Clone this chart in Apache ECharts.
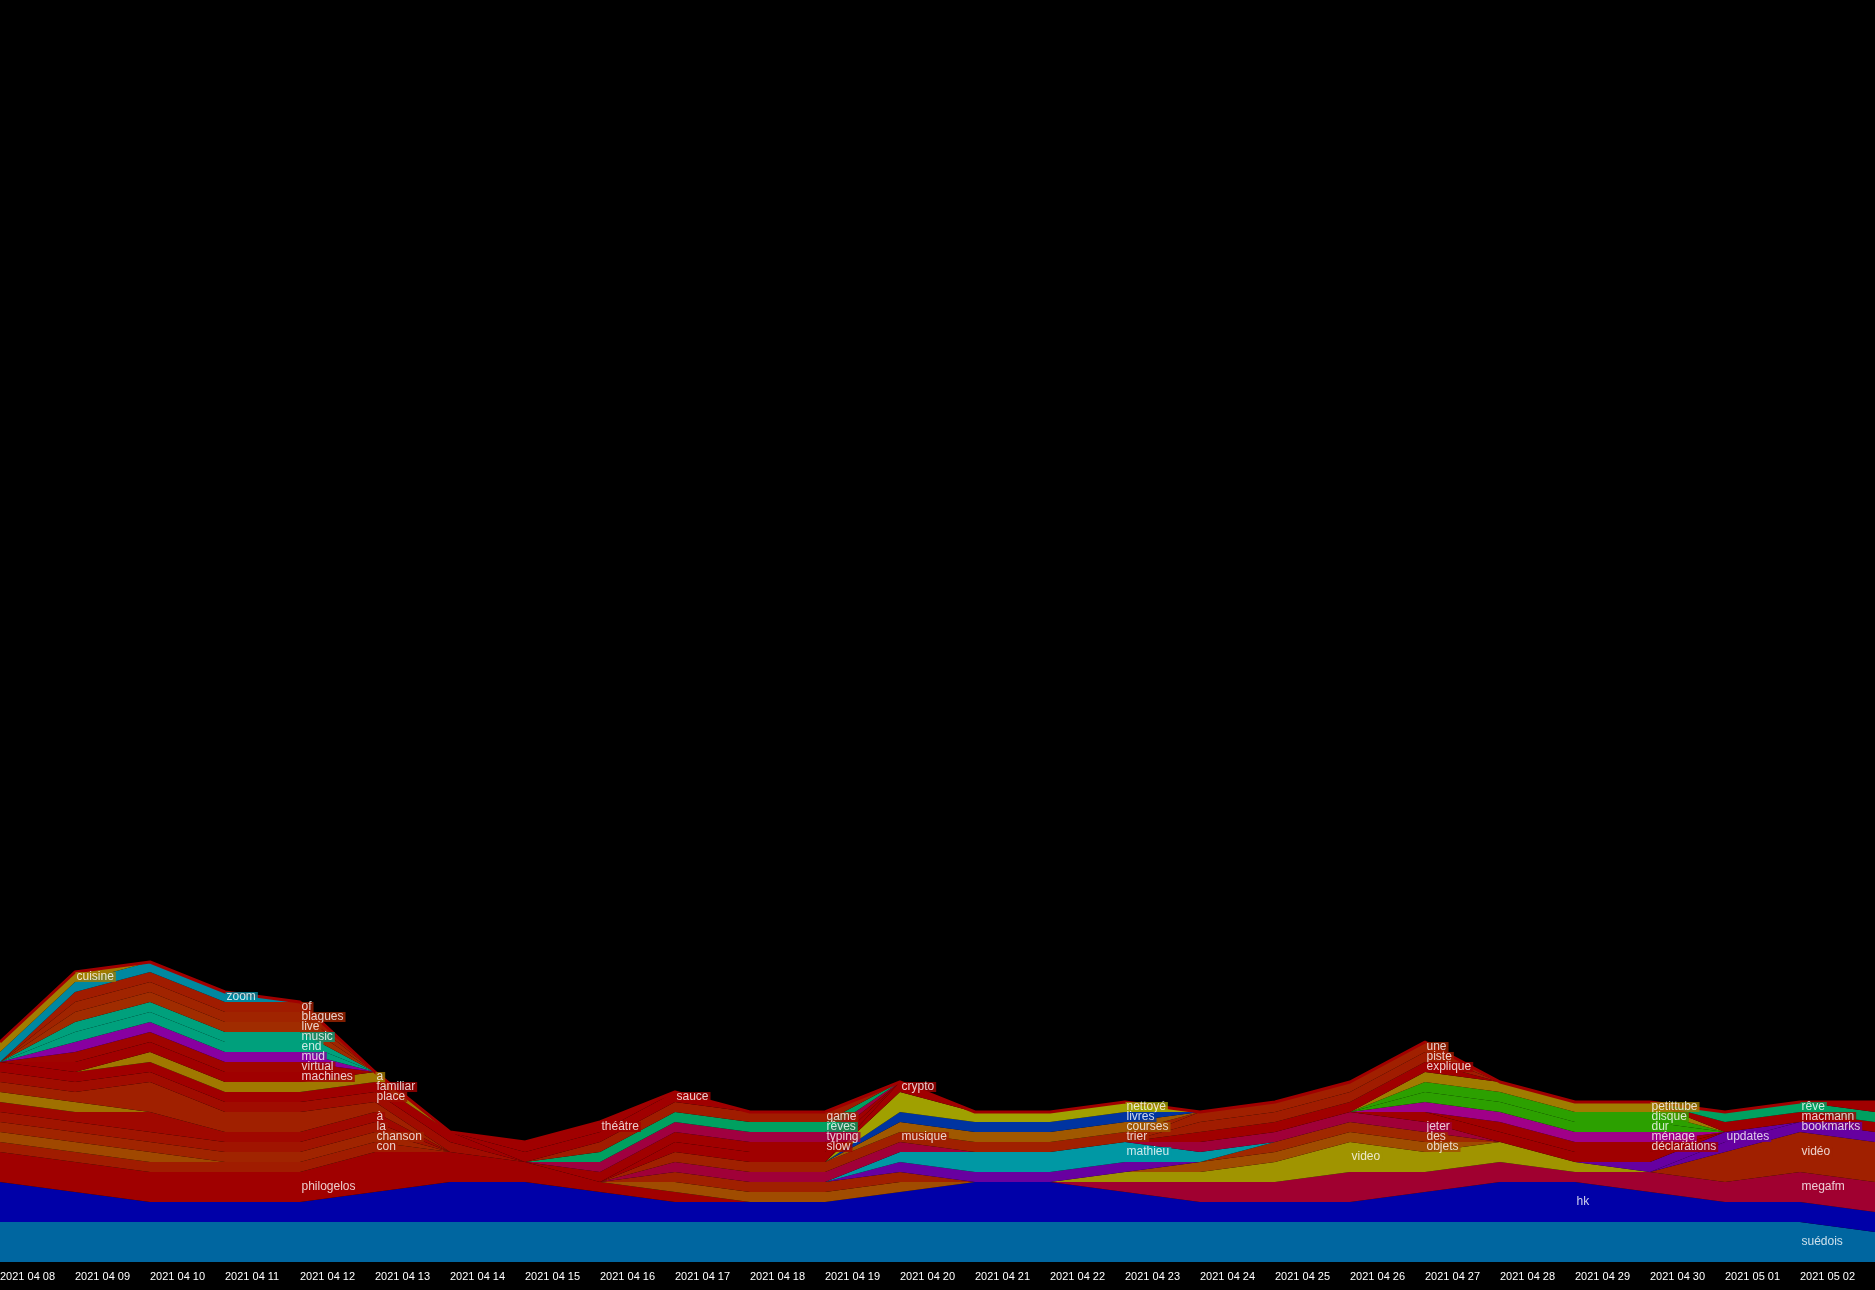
<!DOCTYPE html>
<html><head><meta charset="utf-8">
<script src="https://cdn.jsdelivr.net/npm/echarts@6/dist/echarts.min.js"></script>
<style>html,body{margin:0;padding:0;background:#000;overflow:hidden}#c{width:1875px;height:1290px}</style>
</head><body><div id="c"></div>
<script>
const days = ['2021 04 08','2021 04 09','2021 04 10','2021 04 11','2021 04 12','2021 04 13','2021 04 14','2021 04 15','2021 04 16','2021 04 17','2021 04 18','2021 04 19','2021 04 20','2021 04 21','2021 04 22','2021 04 23','2021 04 24','2021 04 25','2021 04 26','2021 04 27','2021 04 28','2021 04 29','2021 04 30','2021 05 01','2021 05 02','2021 05 03'];

// word counts per day, bottom of the stack first
const suedois      = [4,4,4,4,4,4,4,4,4,4,4,4,4,4,4,4,4,4,4,4,4,4,4,4,4,3];
const hk           = [4,3,2,2,2,3,4,4,3,2,2,2,3,4,4,3,2,2,2,3,4,4,3,2,2,2];
const philogelos   = [3,3,3,3,3,4,3,2,1,1,0,0,0,0,0,0,0,0,0,0,0,0,0,0,0,0];
const con          = [1,1,1,1,1,1,0,0,0,0,0,0,0,0,0,0,0,0,0,0,0,0,0,0,0,0];
const wOL          = [1,1,1,0,0,0,0,0,0,0,0,0,0,0,0,0,0,0,0,0,0,0,0,0,0,0];
const chanson      = [1,1,1,1,1,1,0,0,0,0,0,0,0,0,0,0,0,0,0,0,0,0,0,0,0,0];
const la           = [1,1,1,1,1,1,0,0,0,0,0,0,0,0,0,0,0,0,0,0,0,0,0,0,0,0];
const aGrave       = [1,1,2,1,1,1,0,0,0,0,0,0,0,0,0,0,0,0,0,0,0,0,0,0,0,0];
const wGL          = [1,1,0,0,0,0,0,0,0,0,0,0,0,0,0,0,0,0,0,0,0,0,0,0,0,0];
const wX           = [1,1,3,2,2,1,0,0,0,0,0,0,0,0,0,0,0,0,0,0,0,0,0,0,0,0];
const place        = [1,1,1,1,1,1,1,0,0,0,0,0,0,0,0,0,0,0,0,0,0,0,0,0,0,0];
const familiar     = [1,1,1,1,1,1,1,0,0,0,0,0,0,0,0,0,0,0,0,0,0,0,0,0,0,0];
const aWord        = [0,0,1,1,1,1,0,0,0,0,0,0,0,0,0,0,0,0,0,0,0,0,0,0,0,0];
const machines     = [0,1,1,1,1,0,0,0,0,0,0,0,0,0,0,0,0,0,0,0,0,0,0,0,0,0];
const virtual      = [0,1,1,1,1,0,0,0,0,0,0,0,0,0,0,0,0,0,0,0,0,0,0,0,0,0];
const mud          = [0,1,1,1,1,0,0,0,0,0,0,0,0,0,0,0,0,0,0,0,0,0,0,0,0,0];
const endW         = [0,1,1,1,1,0,0,0,0,0,0,0,0,0,0,0,0,0,0,0,0,0,0,0,0,0];
const music        = [0,1,1,1,1,0,0,0,0,0,0,0,0,0,0,0,0,0,0,0,0,0,0,0,0,0];
const live         = [0,1,1,1,1,0,0,0,0,0,0,0,0,0,0,0,0,0,0,0,0,0,0,0,0,0];
const blagues      = [0,1,1,1,1,0,0,0,0,0,0,0,0,0,0,0,0,0,0,0,0,0,0,0,0,0];
const ofW          = [0,1,1,1,1,0,0,0,0,0,0,0,0,0,0,0,0,0,0,0,0,0,0,0,0,0];
const zoom         = [1,1,1,1,0,0,0,0,0,0,0,0,0,0,0,0,0,0,0,0,0,0,0,0,0,0];
const cuisine      = [1,1,0,0,0,0,0,0,0,0,0,0,0,0,0,0,0,0,0,0,0,0,0,0,0,0];
const wOC          = [0,0,0,0,0,0,0,0,0,1,1,1,1,0,0,0,0,0,0,0,0,0,0,0,0,0];
const wRO8         = [0,0,0,0,0,0,0,0,0,1,1,1,1,0,0,0,0,0,0,0,0,0,0,0,0,0];
const megafm       = [0,0,0,0,0,0,0,0,0,0,0,0,0,0,0,1,2,2,3,2,2,1,2,2,3,3];
const video        = [0,0,0,0,0,0,0,0,0,0,0,0,0,0,0,1,1,2,3,2,2,1,0,0,0,0];
const videoAcc     = [0,0,0,0,0,0,0,0,0,0,0,0,0,0,0,0,0,0,0,0,0,0,0,3,4,4];
const bookmarks    = [0,0,0,0,0,0,0,0,0,0,0,0,0,0,0,0,0,0,0,0,0,0,0,1,1,1];
const updates      = [0,0,0,0,0,0,0,0,0,0,0,0,0,0,0,0,0,0,0,0,0,0,1,1,0,0];
const objets       = [0,0,0,0,0,0,0,0,0,0,0,0,0,0,0,0,1,1,1,1,0,0,0,0,0,0];
const des          = [0,0,0,0,0,0,0,0,0,0,0,0,0,0,0,0,0,1,1,1,0,0,0,0,0,0];
const wV1          = [0,0,0,0,0,0,0,0,0,0,0,0,1,1,1,1,0,0,0,0,0,0,0,0,0,0];
const mathieu      = [0,0,0,0,0,0,0,0,0,0,0,0,1,2,2,2,1,0,0,0,0,0,0,0,0,0];
const wCR9         = [0,0,0,0,0,0,0,0,0,1,1,1,1,0,0,0,0,0,0,0,0,0,0,0,0,0];
const jeter        = [0,0,0,0,0,0,0,0,0,0,0,0,0,0,0,0,1,1,1,1,0,0,0,0,0,0];
const wR6          = [0,0,0,0,0,0,0,0,0,0,0,0,0,0,0,0,0,0,0,1,1,1,1,0,0,0];
const declarations = [0,0,0,0,0,0,0,0,0,0,0,0,0,0,0,0,0,0,0,0,1,1,1,0,0,0];
const menage       = [0,0,0,0,0,0,0,0,0,0,0,0,0,0,0,0,0,0,0,1,1,1,1,0,0,0];
const dur          = [0,0,0,0,0,0,0,0,0,0,0,0,0,0,0,0,0,0,0,1,1,1,1,0,0,0];
const disque       = [0,0,0,0,0,0,0,0,0,0,0,0,0,0,0,0,0,0,0,1,1,1,1,0,0,0];
const petittube    = [0,0,0,0,0,0,0,0,0,0,0,0,0,0,0,0,0,0,0,1,1,1,1,0,0,0];
const explique     = [0,0,0,0,0,0,0,0,0,0,0,0,0,0,0,0,1,1,1,1,0,0,0,0,0,0];
const piste        = [0,0,0,0,0,0,0,0,0,0,0,0,0,0,0,0,1,1,1,1,0,0,0,0,0,0];
const une          = [0,0,0,0,0,0,0,0,0,0,0,0,0,0,0,0,1,1,1,1,0,0,0,0,0,0];
const musique      = [0,0,0,0,0,0,0,0,0,1,1,1,1,1,1,0,0,0,0,0,0,0,0,0,0,0];
const trier        = [0,0,0,0,0,0,0,0,0,0,0,0,0,0,0,1,0,0,0,0,0,0,0,0,0,0];
const courses      = [0,0,0,0,0,0,0,0,0,0,0,0,1,1,1,1,0,0,0,0,0,0,0,0,0,0];
const livres       = [0,0,0,0,0,0,0,0,0,0,0,0,1,1,1,1,0,0,0,0,0,0,0,0,0,0];
const nettoye      = [0,0,0,0,0,0,0,0,0,0,0,0,2,1,1,1,0,0,0,0,0,0,0,0,0,0];
const crypto       = [0,0,0,0,0,0,0,0,0,0,0,0,1,0,0,0,0,0,0,0,0,0,0,0,0,0];
const wU1          = [0,0,0,0,0,0,0,0,0,1,1,1,0,0,0,0,0,0,0,0,0,0,0,0,0,0];
const slow         = [0,0,0,0,0,0,0,0,1,1,1,1,0,0,0,0,0,0,0,0,0,0,0,0,0,0];
const typing       = [0,0,0,0,0,0,0,0,1,1,1,1,0,0,0,0,0,0,0,0,0,0,0,0,0,0];
const reves        = [0,0,0,0,0,0,0,0,1,1,1,1,0,0,0,0,0,0,0,0,0,0,0,0,0,0];
const game         = [0,0,0,0,0,0,0,0,1,1,1,1,0,0,0,0,0,0,0,0,0,0,0,0,0,0];
const sauce        = [0,0,0,0,0,0,0,1,1,1,0,0,0,0,0,0,0,0,0,0,0,0,0,0,0,0];
const theatre      = [0,0,0,0,0,0,0,1,1,0,0,0,0,0,0,0,0,0,0,0,0,0,0,0,0,0];
const macmann      = [0,0,0,0,0,0,0,0,0,0,0,0,0,0,0,0,0,0,0,0,0,0,0,1,1,1];
const reve         = [0,0,0,0,0,0,0,0,0,0,0,0,0,0,0,0,0,0,0,0,0,0,0,1,1,1];
const wR7          = [0,0,0,0,0,0,0,0,0,0,0,0,0,0,0,0,0,0,0,0,0,0,0,0,0,1];

const layerNames = ['suédois','hk','philogelos','con','w_ol','chanson','la','à','w_gl','w_x','place','familiar','a','machines','virtual','mud','end','music','live','blagues','of','zoom','cuisine','w_oc','w_ro','megafm','video','vidéo','bookmarks','updates','objets','des','w_v','mathieu','w_cr','jeter','w_r6','déclarations','ménage','dur','disque','petittube','explique','piste','une','musique','trier','courses','livres','nettoyé','crypto','w_u','slow','typing','rêves','game','sauce','théâtre','macmann','rêve','w_r7'];
const layerValues = [suedois,hk,philogelos,con,wOL,chanson,la,aGrave,wGL,wX,place,familiar,aWord,machines,virtual,mud,endW,music,live,blagues,ofW,zoom,cuisine,wOC,wRO8,megafm,video,videoAcc,bookmarks,updates,objets,des,wV1,mathieu,wCR9,jeter,wR6,declarations,menage,dur,disque,petittube,explique,piste,une,musique,trier,courses,livres,nettoye,crypto,wU1,slow,typing,reves,game,sauce,theatre,macmann,reve,wR7];
const layerColors = ['#0066a0','#0000a8','#a00000','#a01c00','#a04800','#a02400','#a01400','#a00800','#a07000','#a02000','#a00c00','#a00000','#a07800','#a00000','#a00400','#8800a0','#00a07c','#00a07c','#a02c00','#a02400','#a01c00','#0088a0','#a07c00','#a04c00','#a02000','#a00030','#a09400','#a02000','#6600a0','#6600a0','#a04c00','#a02800','#6800a0','#0098a4','#a00038','#a00038','#a00000','#a00000','#a00088','#2ca000','#2ca000','#a07c00','#a00000','#a01c00','#a02000','#a02000','#a02000','#a05800','#0034a0','#a0a000','#a00000','#a00000','#a00000','#a00040','#00a060','#a01c00','#a00000','#a00000','#a00000','#00a060','#a00000'];

// word labels: which word, on which day
const labelWords = ['cuisine','zoom','of','blagues','live','music','end','mud','virtual','machines','philogelos','a','familiar','place','à','la','chanson','con','théâtre','sauce','game','rêves','typing','slow','crypto','musique','nettoyé','livres','courses','trier','mathieu','video','une','piste','explique','jeter','des','objets','hk','petittube','disque','dur','ménage','déclarations','updates','rêve','macmann','bookmarks','vidéo','megafm','suédois'];
const labelDays  = [1,3,4,4,4,4,4,4,4,4,4,5,5,5,5,5,5,5,8,9,11,11,11,11,12,12,15,15,15,15,15,18,19,19,19,19,19,19,21,22,22,22,22,22,23,24,24,24,24,24,24];

const topLine = days.map(() => 0);

const series = layerNames.map((n, i) => ({
  name: n, type: 'line', stack: 'all', data: layerValues[i],
  symbol: 'none', smooth: false, silent: true,
  lineStyle: { width: 0, opacity: 0 },
  areaStyle: { color: layerColors[i], opacity: 1 },
  itemStyle: { color: layerColors[i] }, z: 2
}));
series.push({
  name: 'top', type: 'line', stack: 'all', data: topLine, symbol: 'none', silent: true,
  lineStyle: { color: '#a00000', width: 3 }, z: 3
});

const labelData = labelWords.map((w, j) => {
  const i = layerNames.indexOf(w);
  const d = labelDays[j];
  let base = 0;
  for (let k = 0; k < i; k++) base += layerValues[k][d];
  return { name: w, value: [d, base + layerValues[i][d] / 2], label: { backgroundColor: layerColors[i] } };
});
series.push({
  type: 'scatter', data: labelData, symbol: 'rect', symbolSize: 1,
  itemStyle: { color: 'rgba(0,0,0,0)' }, silent: true, z: 10,
  label: { show: true, position: 'right', distance: 0, formatter: p => p.name,
    color: '#ffffff', fontSize: 12, fontFamily: 'Liberation Sans, Arial, sans-serif',
    padding: [0, 2, 0, 1], lineHeight: 10 },
  labelLayout: { hideOverlap: false }
});

const chart = echarts.init(document.getElementById('c'), null, { renderer: 'canvas' });
chart.setOption({
  backgroundColor: '#000000',
  animation: false,
  grid: { left: 0, right: 0, top: 0, bottom: 28, containLabel: false, outerBoundsMode: 'none' },
  xAxis: {
    type: 'category', data: days, boundaryGap: false,
    axisLine: { show: false }, axisTick: { show: false }, splitLine: { show: false },
    axisLabel: { show: true, interval: 0, align: 'left', color: '#ffffff', fontSize: 11,
      fontFamily: 'Liberation Sans, Arial, sans-serif', margin: 9, hideOverlap: false }
  },
  yAxis: { type: 'value', min: 0, max: 126.2, show: false, splitLine: { show: false } },
  series: series
});
</script>
</body></html>
